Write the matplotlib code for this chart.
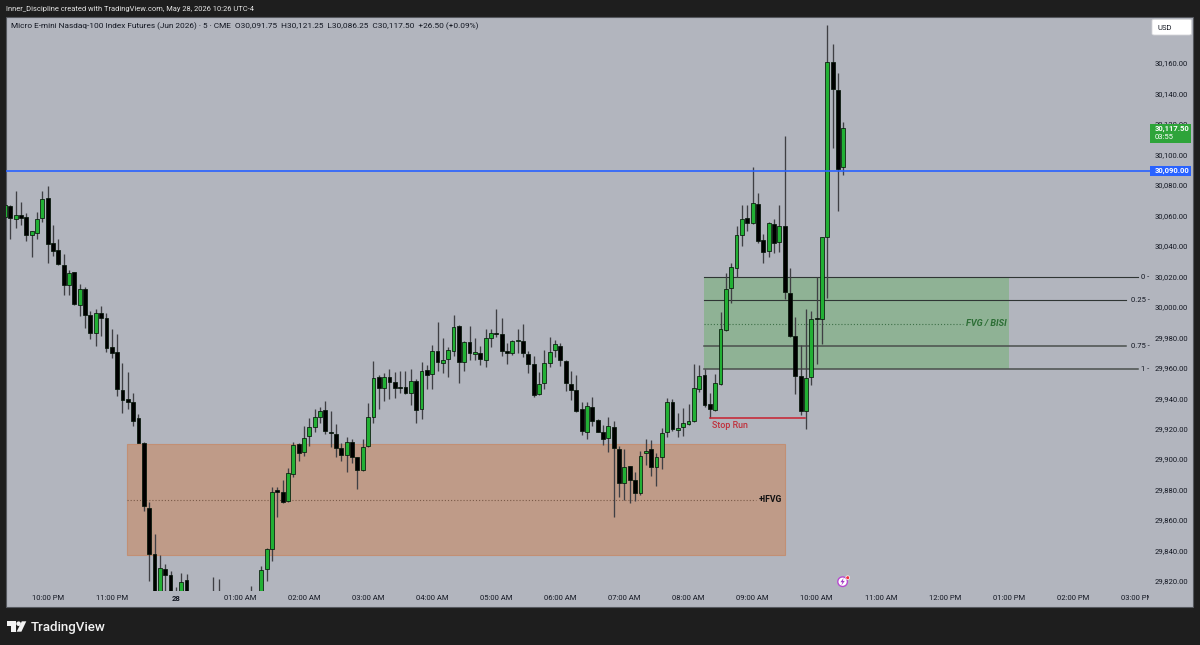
import matplotlib
matplotlib.use("Agg")
import matplotlib.pyplot as plt
import numpy as np
from matplotlib.patches import Rectangle, FancyBboxPatch, Circle, Polygon
from matplotlib.transforms import Bbox, IdentityTransform, TransformedBbox

# bar index 0 = 10:00 PM, 5-minute bars
first_bar = -8
highs = [30067.9,30066.8,30075.8,30068.6,30061.4,30049.5,30062,30076.2,
 30079.5,30053.7,30044.3,30034.4,30024.2,30023,30015,30012.8,29997.5,29998.3,30000.5,29995.7,29985.6,29982.2,29963.3,29957.2,29943.2,29929.6,
 29911,29872.1,29850.9,29837.1,29831.2,29826.4,29815.9,29825,29824.4,29810,29804,29803,29808,29822.4,29821.3,29808,29806,29805,29804,29808,29816.7,29810,
 29830,29841.5,29881.5,29881.9,29886,29893.9,29911,29910.8,29921.7,29926.8,29932.9,29934,29938.1,29931.8,29923,29910.8,29914.3,29913.2,29901.6,29913.2,29936.6,29964.6,
 29955.2,29956.7,29958.9,29957,29957.8,29958,29958.9,29952.4,29963.7,29961.8,29974.7,29989.8,29979.3,29973.8,29994.6,29988,29977.7,29987.6,29979.3,29974.5,
 29985.2,29985.2,29998.3,29992.4,29976.4,29978.2,29985.2,29988.7,29970.9,29967.9,29956.9,29971.6,29980.4,29978.2,29976,29965,29958,29955.2,
 29937.7,29937.3,29940.5,29926.3,29922.4,29927.4,29925,29908.6,29906.4,29895.5,29891.8,29905.3,29913.2,29912.5,29904.2,29920.2,29939.9,29939.2,29930,29933.3,29936.2,
 29962.2,29961.8,29958.9,29943.6,29955.9,29996.3,30021.9,30028.5,30053,30066.8,30066.8,30091.7,30074.9,30047.8,30055.4,30057.4,30066.8,30111.9,30025.2,29993.5,29974.9,29998.5,29997.4,30019.3,30046,30185,30172.5,30153.2,30121.25]
lows = [30058.1,30044.5,30051.5,30053.7,30043.4,30032.5,30044.3,30055.9,
 30029,30033.3,30027.7,30007.7,30007.7,30001.2,29994,29985.9,29979.1,29974.3,29980.8,29970.1,29966.2,29941.5,29930.1,29932.9,29921.5,29910.4,
 29866.2,29820.2,29795,29796,29808,29798,29797,29800,29800,29790,29785,29786,29792,29796,29795,29792,29790,29791,29792,29794,29796,29797,
 29804,29820.2,29833.4,29862.2,29871,29872.1,29888.5,29898.8,29902,29908.8,29917.8,29923.5,29916.5,29908.2,29901.6,29898.8,29891.5,29897.2,29880.1,29892.4,29908.2,29923.5,
 29932.9,29938.1,29939.2,29940.3,29943.4,29942.7,29935.5,29923.5,29926.1,29946.2,29946,29957.8,29956.7,29953.7,29967.7,29950.2,29958,29965,29965,29961.8,
 29960.7,29973.4,29980.4,29967.9,29962.4,29968.3,29969.4,29967.2,29956.7,29941,29942.1,29945.8,29960.7,29966.8,29961.3,29944.9,29938.8,29931.1,
 29915.8,29913.2,29921.7,29917.6,29909.3,29904.9,29862.2,29875.4,29873.1,29871,29872.5,29876.4,29896.1,29889.1,29882.4,29893.5,29914.3,29918.7,29914.3,29915.4,29922.4,
 29924.6,29944.3,29934.4,29926.8,29931.8,29948.6,29984.3,30002.2,30019.3,30040.1,30049.9,30054.3,30041.6,30028.5,30032.4,30035.5,30036.2,30005.1,29980.4,29942.7,29929,29920,29948.6,29962.4,29975.6,30006,30104,30063.1,30086.25]
opens = [30059.2,30066.4,30057.6,30060.3,30059.2,30047.1,30048.2,30058.5,
 30071.4,30041.7,30037.5,30027.7,30014.5,30022.6,30001.4,30011.7,29994.8,29983,29996.2,29992.4,29973.4,29970.1,29945.4,29939.3,29937.5,29927,
 29910.8,29867.7,29837.7,29800,29827.9,29824.2,29802,29805,29820.5,29805,29796,29790,29796,29801,29806,29802,29798,29796,29795,29800,29806,29803,
 29808,29827.7,29841,29879.5,29878.4,29872.5,29890,29909.9,29904.7,29915.2,29920.8,29927.6,29932.2,29917.6,29916.7,29907.3,29902.5,29911,29901.4,29892.8,29908.4,29927.4,
 29953.7,29946.9,29953.7,29950.4,29947.5,29947.1,29943.6,29951,29932.7,29958.3,29955.9,29971.2,29962.9,29965.5,29971,29987.1,29963.5,29976.9,29968.8,29969.6,
 29964.8,29979.3,29983,29981.9,29971.2,29969.9,29977.7,29977.7,29969.2,29962.2,29942.7,29950.2,29963.3,29971.4,29974.5,29964.4,29949.3,29945.6,
 29932.7,29918,29934.4,29925.7,29918,29914.1,29921.3,29906.8,29884.1,29895.5,29886.1,29877.8,29903.8,29906.4,29894.8,29901.6,29917.6,29937.3,29918.9,29920.9,29922.8,
 29925,29946,29955.2,29936.2,29932.2,29949.1,29984.8,30012.1,30025.2,30047.1,30058.3,30055.2,30067.7,30043.8,30036.6,30054.3,30042.7,30053,30008.8,29981,29954.6,29931.4,29953.7,29992.4,29992,30046,30160.4,30142.3,30091.75]
closes = [30066.8,30058.5,30060.3,30058.5,30047.1,30049.5,30057.9,30070.5,
 30041.2,30036.6,30028.3,30014.3,30022,30001.6,30011.5,29994.6,29982.8,29996,29992.7,29973.2,29969.9,29946,29939,29937.5,29925.3,29910.6,
 29869.5,29837.7,29800,29828.3,29823.7,29803,29806,29819.6,29806,29795,29789,29798,29803,29806,29800,29796,29795,29800,29796,29802,29800,29806,
 29827,29841.2,29878.7,29878.2,29871.6,29890.6,29909,29904.2,29913.8,29920.8,29927.6,29931.8,29918.4,29917.1,29907.5,29902.5,29911,29901.4,29892.8,29908.2,29927.4,29953,
 29946.9,29954.1,29950.6,29946.4,29946.9,29943.6,29951.3,29932.2,29957.6,29955.4,29970.9,29963.5,29965,29971.6,29986.9,29963.5,29977.1,29969.4,29970.1,29965.7,
 29979.3,29983,29981.9,29970.9,29969.4,29977.5,29977.9,29969.6,29962.4,29942.3,29949.5,29962.9,29970.5,29975.3,29964.8,29949.7,29945.6,29931.8,
 29918.4,29934.9,29925.2,29917.8,29913,29921.7,29907.5,29884.5,29894.8,29886.3,29878,29902.3,29905.5,29894.8,29901.4,29916.9,29937.7,29919.8,29920.4,29923.5,29925,
 29946.9,29954.8,29935.5,29932.7,29950.2,29985.2,30011.9,30026.3,30047.1,30057.8,30055.2,30067.9,30043.4,30036.2,30054.8,30041.9,30052.8,30009.5,29980.6,29954.6,29931.4,29953.5,29991.8,29992.2,30045.8,30160.4,30142.7,30090.4,30117.5]

price_ticks = [30160,30140,30120,30100,30080,30060,30040,30020,30000,29980,29960,29940,29920,29900,29880,29860,29840,29820]
time_ticks = [0,12,24,36,48,60,72,84,96,108,120,132,144,156,168,180,192,204]
time_labels = ["10:00 PM","11:00 PM","28","01:00 AM","02:00 AM","03:00 AM","04:00 AM","05:00 AM","06:00 AM","07:00 AM","08:00 AM","09:00 AM","10:00 AM","11:00 AM","12:00 PM","01:00 PM","02:00 PM","03:00 PM"]
ifvg_zone = (29909.9, 29837.0, 29873.4)
fvg_levels = [30019.3, 30004.4, 29974.0, 29959.0]
fvg_mid = 29989.0
fvg_fib_labels = ["0 -","0.25 -","0.75 -","1 -"]
blue_level = 30089.4
stop_run_level = 29927.0

BG = "#b2b5be"
DARK = "#1e1e1e"
GREEN = "#22b034"
plt.rcParams["font.family"] = ["Roboto", "DejaVu Sans"]
TS = 5.5

W, H = 1200, 645
fig = plt.figure(figsize=(W/100, H/100), dpi=100, facecolor=DARK)

def fr(x0, y0, x1, y1):
    return [x0/W, 1-y1/H, (x1-x0)/W, (y1-y0)/H]

fig.add_artist(Rectangle((6/W, 1-607/H), 1187/W, 590/H, transform=fig.transFigure,
                         facecolor=BG, edgecolor="#55585e", lw=0.8, zorder=0))

ax = fig.add_axes(fr(6, 17, 1150, 591), facecolor="none")
PXB = 5.34
X0 = 47.7
PPY = 340/518
def bx(px):
    return (px-X0)/PXB
ax.set_xlim(bx(6), bx(1150))
ax.set_ylim(30160-(591-63)*PPY, 30160+(63-17)*PPY)
for s in ax.spines.values():
    s.set_visible(False)

idx = first_bar + np.arange(len(opens))
o, h, l, c = map(np.array, (opens, highs, lows, closes))
up = c >= o

# zones
x0, x1 = bx(127), bx(785)
ax.add_patch(Rectangle((x0, ifvg_zone[1]), x1-x0, ifvg_zone[0]-ifvg_zone[1], fc="#bf9b88", ec="#c28f74", lw=0.8, zorder=1))
ax.plot([x0, bx(756)], [ifvg_zone[2]]*2, color="#7a5a48", lw=0.8, ls=(0, (1, 1.8)), zorder=2)
gx0, gx1 = bx(704), bx(1009)
ax.add_patch(Rectangle((gx0, fvg_levels[3]), gx1-gx0, fvg_levels[0]-fvg_levels[3], fc="#8fb295", ec="none", zorder=1))
ax.plot([gx0, bx(963)], [fvg_mid]*2, color="#3e7048", lw=0.8, ls=(0, (1, 1.8)), zorder=2)
for lev, end, lw, col in zip(fvg_levels, [1138, 1126, 1126, 1138], [0.8, 0.8, 1.1, 1.1],
                             ["#2f3534", "#2f3534", "#4a504d", "#4a504d"]):
    ax.plot([gx0, bx(end)], [lev]*2, color=col, lw=lw, zorder=2)

# candles
ax.vlines(idx, l, h, color="#3f3f44", lw=0.95, zorder=3)
body = np.maximum(np.abs(c-o), 0.6)
ax.bar(idx, body, bottom=np.minimum(o, c), width=0.72,
       color=[GREEN if u else "#000000" for u in up], edgecolor="#07170a", lw=0.55, zorder=4)

ax.plot([bx(710), bx(805)], [stop_run_level]*2, color="#c8202f", lw=1.1, zorder=5)
ax.text(bx(712.5), 29921.9, "Stop Run", color="#c0303c", fontsize=6.4, fontweight="medium", va="center", ha="left", zorder=6)
ax.text(bx(770), ifvg_zone[2], "+IFVG", color="#111111", fontsize=6.2, fontweight="bold", va="center", ha="center", zorder=6)
ax.text(bx(986), fvg_mid, "FVG / BISI", color="#2c6e35", fontsize=6.6, style="italic", fontweight="bold", va="center", ha="center", zorder=6)
ax.axhline(blue_level, color="#2962ff", lw=1.2, zorder=5)

# axes
ax.yaxis.tick_right()
ax.set_yticks(price_ticks)
ax.set_yticklabels([f"{p:,.2f}" for p in price_ticks])
ax.tick_params(axis="y", length=0, pad=3.6, labelsize=TS, labelcolor="#131722")
ax.set_xticks(time_ticks)
ax.set_xticklabels(time_labels)
ax.tick_params(axis="x", length=0, pad=2.8, labelsize=TS, labelcolor="#131722")
clip = TransformedBbox(Bbox([[0, 0], [1149/W, 1]]), fig.transFigure)
for t, lab in zip(ax.get_xticklabels(), time_labels):
    t.set_clip_box(clip); t.set_clip_on(True)
    if lab == "28":
        t.set_fontweight("bold")

for lev, txt in zip(fvg_levels, fvg_fib_labels):
    ax.text(bx(1149.5), lev, txt, ha="right", va="center", fontsize=TS, color="#131722", zorder=6)

def ftext(px, py, s, **kw):
    fig.text(px/W, 1-py/H, s, **kw)

# price tags
fig.add_artist(Rectangle((1150/W, 1-142.7/H), 40.7/W, 18.7/H, transform=fig.transFigure, fc="#2ea43a", ec="none", zorder=5))
ftext(1155, 128.7, "30,117.50", fontsize=TS, color="white", fontweight="bold", va="center", zorder=6)
ftext(1155, 137.5, "03:55", fontsize=TS, color="white", va="center", zorder=6)
fig.add_artist(Rectangle((1150/W, 1-175.7/H), 40.7/W, 10/H, transform=fig.transFigure, fc="#2962ff", ec="none", zorder=5))
ftext(1155, 170.8, "30,090.00", fontsize=TS, color="white", fontweight="bold", va="center", zorder=6)
fig.add_artist(FancyBboxPatch((1152/W, 1-35/H), 39.5/W, 15.7/H, boxstyle="round,pad=0,rounding_size=0.002",
                              transform=fig.transFigure, fc="white", ec="#d5d6da", lw=0.6, zorder=5))
ftext(1157.3, 27.6, "USD", fontsize=TS, color="#131722", va="center", zorder=6)

ftext(6, 9.5, "Inner_Discipline created with TradingView.com, May 28, 2026 10:26 UTC-4", fontsize=5.45, color="#e6e6e6", va="center")
ftext(11, 25.7, "Micro E-mini Nasdaq-100 Index Futures (Jun 2026) · 5 · CME  O30,091.75  H30,121.25  L30,086.25  C30,117.50  +26.50 (+0.09%)",
      fontsize=5.95, color="#131722", va="center")

# TradingView wordmark and logo
ftext(30.7, 627, "TradingView", fontsize=9.6, color="#f2f2f2", fontweight="medium", va="center")
def px_poly(pts, col, z=6):
    fig.add_artist(Polygon([(x, H-y) for x, y in pts], closed=True, transform=IdentityTransform(), fc=col, ec="none", zorder=z))
px_poly([(7, 621.3), (15.6, 621.3), (15.6, 631.7), (11.2, 631.7), (11.2, 626.3), (7, 626.3)], "#f2f2f2")
fig.add_artist(Circle((18.6, H-623.7), 2.3, transform=IdentityTransform(), fc="#f2f2f2", ec="none", zorder=6))
px_poly([(21.8, 621.3), (26.3, 621.3), (21.4, 631.7), (16.6, 631.7)], "#f2f2f2")

# lightning marker
fig.add_artist(Circle((842.6, H-581.7), 4.8, transform=IdentityTransform(), fc="white", ec="#b74ad0", lw=1.0, zorder=6))
px_poly([(843.6, 578), (840.4, 582.2), (842.4, 582.2), (841.4, 585.4), (844.8, 580.9), (842.8, 580.9)], "#a33ac4", z=7)
fig.add_artist(Circle((847.7, H-577.7), 1.9, transform=IdentityTransform(), fc="#f0323c", ec="white", lw=0.5, zorder=8))

fig.savefig("out.png", dpi=100, facecolor=DARK)
